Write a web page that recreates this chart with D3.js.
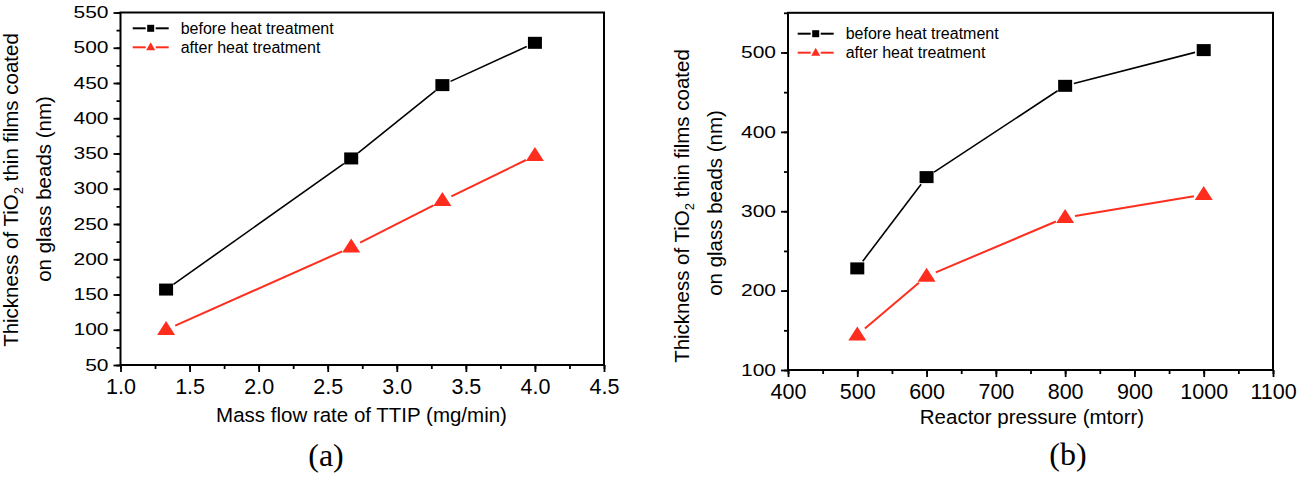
<!DOCTYPE html>
<html>
<head>
<meta charset="utf-8">
<script src="https://cdn.jsdelivr.net/npm/d3@7"></script>
<style>
  body { margin: 0; background: #fff; }
  text { font-family: "Liberation Sans", Arial, sans-serif; fill: #000; }
</style>
</head>
<body>
<div id="chart"></div>
<script>
// panel (a)
const flowRate = [1.33, 2.67, 3.33, 4.0];
const flowBefore = [157, 343, 447, 507];
const flowAfter = [100, 217, 283, 347];
const flowXTicks = [1.0, 1.5, 2.0, 2.5, 3.0, 3.5, 4.0, 4.5];
const flowYTicks = [50, 100, 150, 200, 250, 300, 350, 400, 450, 500, 550];

// panel (b)
const pressure = [500, 600, 800, 1000];
const pressureBefore = [228, 343, 458, 503];
const pressureAfter = [144, 218, 292, 321];
const pressureXTicks = [400, 500, 600, 700, 800, 900, 1000, 1100];
const pressureYTicks = [100, 200, 300, 400, 500];

const seriesNames = ["before heat treatment", "after heat treatment"];
const red = "#ff2d1e";

let width = 1299;
let height = 477;

let svg = d3.select("#chart")
    .append("svg")
    .attr("width", width)
    .attr("height", height);

const drawPanel = (cfg) => {
    let xScale = d3.scaleLinear().domain(cfg.xDomain).range(cfg.xRange);
    let yScale = d3.scaleLinear().domain(cfg.yDomain).range(cfg.yRange);
    let g = svg.append("g");

    // minor ticks first, no labels
    let xMinor = d3.range(cfg.xDomain[0], cfg.xDomain[1] + 1e-9, cfg.xMinorStep);
    let yMinor = d3.range(cfg.yDomain[0], cfg.yDomain[1] + 1e-9, cfg.yMinorStep);
    g.append("g")
        .attr("transform", "translate(0," + cfg.yRange[0] + ")")
        .call(d3.axisBottom(xScale).tickValues(xMinor).tickSize(4).tickFormat(""))
        .call(a => a.select(".domain").remove())
        .selectAll("line").attr("stroke-width", 1.8);
    g.append("g")
        .attr("transform", "translate(" + cfg.xRange[0] + ",0)")
        .call(d3.axisLeft(yScale).tickValues(yMinor).tickSize(4).tickFormat(""))
        .call(a => a.select(".domain").remove())
        .selectAll("line").attr("stroke-width", 1.8);

    let xAxis = g.append("g")
        .attr("transform", "translate(0," + cfg.yRange[0] + ")")
        .call(d3.axisBottom(xScale).tickValues(cfg.xTicks).tickSize(7)
            .tickPadding(cfg.xPad).tickFormat(cfg.xFormat).tickSizeOuter(0));
    xAxis.selectAll("line").attr("stroke-width", 1.8);
    xAxis.select(".domain").remove();
    xAxis.selectAll("text")
        .attr("font-size", "21.5px")
        .style("font-family", "Liberation Sans, Arial, sans-serif");

    let yAxis = g.append("g")
        .attr("transform", "translate(" + cfg.xRange[0] + ",0)")
        .call(d3.axisLeft(yScale).tickValues(cfg.yTicks).tickSize(7)
            .tickPadding(5).tickSizeOuter(0));
    yAxis.selectAll("line").attr("stroke-width", 1.8);
    yAxis.select(".domain").remove();
    // y tick labels in the picture are squashed vertically
    yAxis.selectAll("text")
        .attr("font-size", "21px")
        .attr("transform", "scale(1,0.78)")
        .style("font-family", "Liberation Sans, Arial, sans-serif");

    // frame
    g.append("rect")
        .attr("x", cfg.xRange[0])
        .attr("y", cfg.yRange[1])
        .attr("width", cfg.xRange[1] - cfg.xRange[0])
        .attr("height", cfg.yRange[0] - cfg.yRange[1])
        .attr("fill", "none")
        .attr("stroke", "#000")
        .attr("stroke-width", 2);

    // series lines, broken near markers like the original
    let drawLine = (xs, ys, color, w, gap) => {
        for (let i = 0; i < xs.length - 1; i++) {
            let x1 = xScale(xs[i]), y1 = yScale(ys[i]);
            let x2 = xScale(xs[i + 1]), y2 = yScale(ys[i + 1]);
            let len = Math.hypot(x2 - x1, y2 - y1);
            let ux = (x2 - x1) / len, uy = (y2 - y1) / len;
            g.append("line")
                .attr("x1", x1 + ux * gap).attr("y1", y1 + uy * gap)
                .attr("x2", x2 - ux * gap).attr("y2", y2 - uy * gap)
                .attr("stroke", color)
                .attr("stroke-width", w);
        }
    };
    drawLine(cfg.xs, cfg.before, "#000", 1.6, 9);
    drawLine(cfg.xs, cfg.after, red, 2, 10);

    let tri = (cx, cy, w, h) =>
        "M" + cx + "," + (cy - h * 0.62) + "L" + (cx + w / 2) + "," + (cy + h * 0.38) +
        "L" + (cx - w / 2) + "," + (cy + h * 0.38) + "Z";

    g.selectAll(".sq")
        .data(cfg.xs.map((x, i) => [x, cfg.before[i]]))
        .enter()
        .append("rect")
        .attr("x", d => xScale(d[0]) - 7)
        .attr("y", d => yScale(d[1]) - 6)
        .attr("width", 14)
        .attr("height", 12)
        .attr("fill", "#000");

    g.selectAll(".tri")
        .data(cfg.xs.map((x, i) => [x, cfg.after[i]]))
        .enter()
        .append("path")
        .attr("d", d => tri(xScale(d[0]), yScale(d[1]), 18, 14))
        .attr("fill", red);

    // legend
    let lx = cfg.legend[0], ly = cfg.legend[1];
    seriesNames.forEach((name, i) => {
        let y = ly + i * 19;
        let color = i == 0 ? "#000" : red;
        g.append("line").attr("x1", lx - 18).attr("x2", lx - 5)
            .attr("y1", y).attr("y2", y).attr("stroke", color).attr("stroke-width", 2);
        g.append("line").attr("x1", lx + 5).attr("x2", lx + 18)
            .attr("y1", y).attr("y2", y).attr("stroke", color).attr("stroke-width", 2);
        if (i == 0) {
            g.append("rect").attr("x", lx - 3.5).attr("y", y - 3.5)
                .attr("width", 7).attr("height", 7).attr("fill", "#000");
        } else {
            g.append("path").attr("d", tri(lx, y, 9, 8)).attr("fill", red);
        }
        g.append("text")
            .attr("x", lx + 30)
            .attr("y", y + 5.5)
            .attr("font-size", "16px")
            .text(name);
    });

    // x title
    g.append("text")
        .attr("x", cfg.xTitle[0])
        .attr("y", cfg.xTitle[1])
        .attr("font-size", "20.5px")
        .style("text-anchor", "middle")
        .text(cfg.xLabel);

    // y title, two lines with TiO2 subscript
    let t1 = g.append("text")
        .attr("transform", "translate(" + cfg.yTitle[0] + "," + cfg.yTitle[2] + ") rotate(-90)")
        .attr("font-size", "20.5px")
        .style("text-anchor", "middle");
    t1.append("tspan").text("Thickness of TiO");
    t1.append("tspan").attr("dy", 5).attr("font-size", "13px").text("2");
    t1.append("tspan").attr("dy", -5).text(" thin films coated");
    g.append("text")
        .attr("transform", "translate(" + cfg.yTitle[1] + "," + cfg.yTitle[3] + ") rotate(-90)")
        .attr("font-size", "20.5px")
        .style("text-anchor", "middle")
        .text("on glass beads (nm)");

    // panel caption
    g.append("text")
        .attr("x", cfg.caption[0])
        .attr("y", cfg.caption[1])
        .attr("font-size", "32px")
        .style("font-family", "Liberation Serif, Times New Roman, serif")
        .style("text-anchor", "middle")
        .text(cfg.captionText);
};

drawPanel({
    xs: flowRate, before: flowBefore, after: flowAfter,
    xDomain: [1.0, 4.5], xRange: [120.5, 604],
    yDomain: [50, 550], yRange: [365, 12.5],
    xTicks: flowXTicks, yTicks: flowYTicks,
    xMinorStep: 0.25, yMinorStep: 25,
    xFormat: d3.format(".1f"), xPad: 7,
    legend: [150.7, 28.3],
    xLabel: "Mass flow rate of TTIP (mg/min)", xTitle: [361.5, 421.5],
    yTitle: [18, 51, 190, 189],
    caption: [326, 466], captionText: "(a)"
});

drawPanel({
    xs: pressure, before: pressureBefore, after: pressureAfter,
    xDomain: [400, 1100], xRange: [788, 1273],
    yDomain: [100, 550], yRange: [370, 12.8],
    xTicks: pressureXTicks, yTicks: pressureYTicks,
    xMinorStep: 50, yMinorStep: 50,
    xFormat: d3.format("d"), xPad: 7,
    legend: [815.7, 33.7],
    xLabel: "Reactor pressure (mtorr)", xTitle: [1032, 423.5],
    yTitle: [689, 722, 206, 203],
    caption: [1068, 465], captionText: "(b)"
});
</script>
</body>
</html>
